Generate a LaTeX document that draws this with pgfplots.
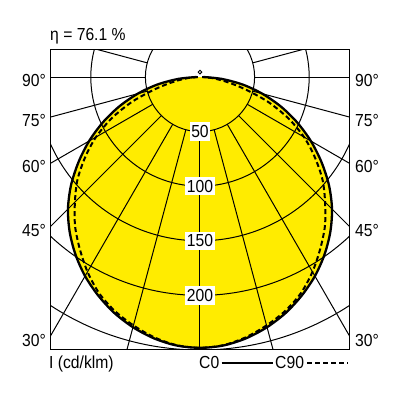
\documentclass[border=0pt]{standalone}
\usepackage{fontspec}
\setmainfont{Liberation Sans}[FakeStretch=0.9]
\usepackage{pgfplots}
\usepackage{pgfplotstable}
\pgfplotsset{compat=1.18}
\definecolor{ldtyellow}{RGB}{255,236,0}

\pgfplotstableread{
g c0 c90
-90 3 2
-85 19.9 11
-80 39.6 24
-75 59 42
-70 78.6 66
-65 98 89
-60 117.2 110
-55 135.8 128.5
-50 154.2 146.5
-45 171 162
-40 185.6 178
-35 198.7 192
-30 210.5 206
-25 220.7 218.5
-20 229.8 228
-15 237.2 235.5
-10 243 242
-5 246.8 246.5
0 248 248
5 246.8 246.5
10 243 242
15 237.2 235.5
20 229.8 228
25 220.7 218.5
30 210.5 206
35 198.7 192
40 185.6 178
45 171 162
50 154.2 146.5
55 135.8 128.5
60 117.2 110
65 98 89
70 78.6 66
75 59 42
80 39.6 24
85 19.9 11
90 3 2
}\ldt

\begin{document}
\begin{tikzpicture}[font=\fontsize{17.5}{20}\selectfont]
\begin{axis}[
  scale only axis, x=1.092bp, y=1.092bp,
  xmin=-137.36, xmax=137.36, ymin=-249.5, ymax=24.73,
  xtick=\empty, ytick=\empty,
  axis line style={line width=1bp},
  clip=true,
]
% yellow fill of C0
\addplot[fill=ldtyellow, draw=none, smooth, tension=0.5]
  table[x expr={\thisrow{c0}*sin(\thisrow{g})}, y expr={-\thisrow{c0}*cos(\thisrow{g})}] {\ldt};
% grid circles
\draw[line width=1bp] (axis cs:0,0) circle[radius=54.6bp];
\draw[line width=1bp] (axis cs:0,0) circle[radius=109.2bp];
\draw[line width=1bp] (axis cs:0,0) circle[radius=163.8bp];
\draw[line width=1bp] (axis cs:0,0) circle[radius=218.4bp];
\draw[line width=1bp] (axis cs:0,0) circle[radius=273bp];
% radial lines
\pgfplotsinvokeforeach{-105,-90,-75,-60,-45,-30,-15,0,15,30,45,60,75,90,105}{
  \draw[line width=1bp] (axis cs:{50*sin(#1)},{-50*cos(#1)}) -- (axis cs:{400*sin(#1)},{-400*cos(#1)});
}
% curves
\addplot[black, line width=2bp, dash pattern=on 5bp off 3bp, smooth, tension=0.5]
  table[x expr={\thisrow{c90}*sin(\thisrow{g})}, y expr={-\thisrow{c90}*cos(\thisrow{g})}] {\ldt};
\addplot[black, line width=2.3bp, smooth, tension=0.5]
  table[x expr={\thisrow{c0}*sin(\thisrow{g})}, y expr={-\thisrow{c0}*cos(\thisrow{g})}] {\ldt};
\addplot[only marks, mark=o, mark size=1.8bp, mark options={line width=0.9bp, fill=white}] coordinates {(0,4.5)};
% intensity labels
\node[fill=white, inner xsep=1.5bp, inner ysep=3bp] at (axis cs:0,-50) {50};
\node[fill=white, inner xsep=1.5bp, inner ysep=3bp] at (axis cs:0,-100) {100};
\node[fill=white, inner xsep=1.5bp, inner ysep=3bp] at (axis cs:0,-150) {150};
\node[fill=white, inner xsep=1.5bp, inner ysep=3bp] at (axis cs:0,-200) {200};
\end{axis}
% title
\node[anchor=base west, inner sep=0pt] at ([yshift=9bp]current axis.north west) {η = 76.1 \%};
% angle labels
\foreach \lab/\dy in {90/37, 75/77, 60/123, 45/187, 30/297}{
  \node[anchor=base east, inner sep=0pt] at ([xshift=-4bp, yshift=-\dy bp]current axis.north west) {\lab°};
  \node[anchor=base west, inner sep=0pt] at ([xshift=5bp, yshift=-\dy bp]current axis.north east) {\lab°};
}
% bottom legend
\node[anchor=base west, inner sep=0pt] at ([xshift=-1bp, yshift=-19.5bp]current axis.south west) {I (cd/klm)};
\node[anchor=base west, inner sep=0pt] at ([xshift=149bp, yshift=-19.5bp]current axis.south west) {C0};
\draw[line width=1.2bp] ([xshift=171.5bp, yshift=-13.5bp]current axis.south west) -- ++(51.5bp,0);
\node[anchor=base west, inner sep=0pt] at ([xshift=225bp, yshift=-19.5bp]current axis.south west) {C90};
\draw[line width=1.2bp, dash pattern=on 5bp off 3bp] ([xshift=257bp, yshift=-13.5bp]current axis.south west) -- ++(41bp,0);
\pgfresetboundingbox
\path ([xshift=-50bp, yshift=50bp]current axis.north west) rectangle ++(400bp,-400bp);
\end{tikzpicture}
\end{document}
